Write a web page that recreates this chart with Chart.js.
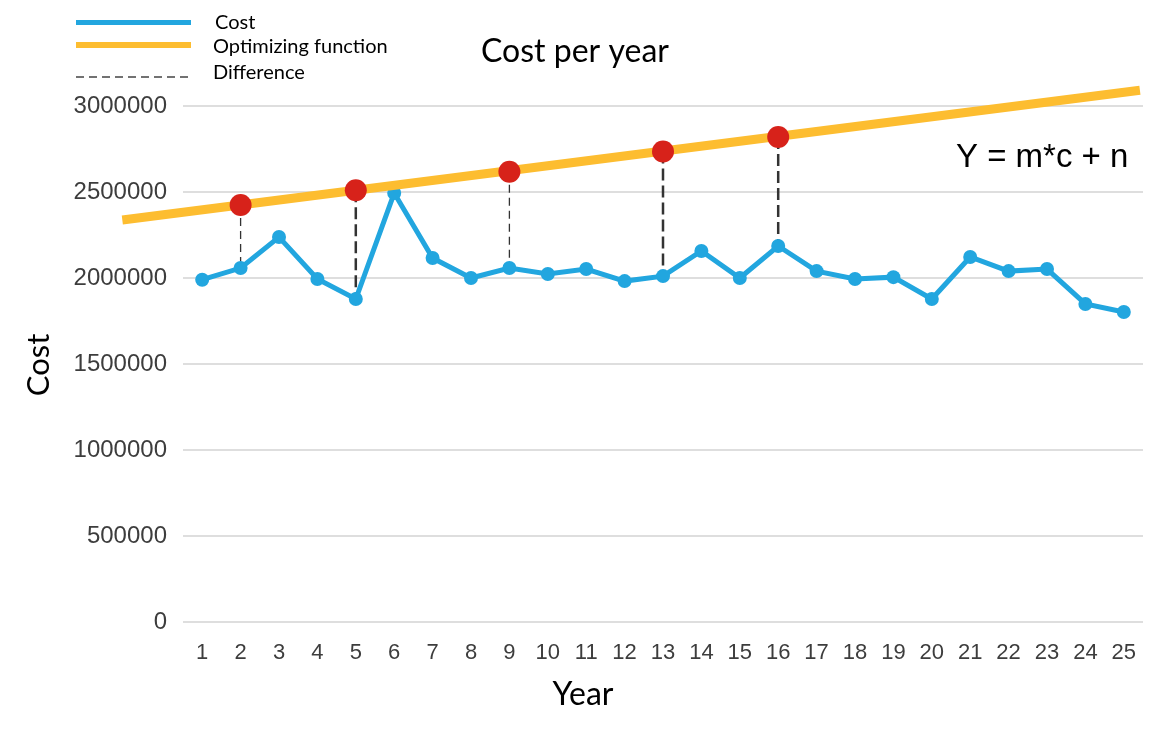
<!DOCTYPE html>
<html>
<head>
<meta charset="utf-8">
<title>Cost per year</title>
<script src="https://cdn.jsdelivr.net/npm/chart.js@4/dist/chart.umd.min.js"></script>
<style>
  html, body { margin: 0; padding: 0; background: #fff; }
  #wrap { width: 1160px; height: 733px; }
</style>
</head>
<body>
<div id="wrap"><canvas id="costChart" width="1160" height="733"></canvas></div>
<script>
const years = [1, 2, 3, 4, 5, 6, 7, 8, 9, 10, 11, 12, 13, 14, 15, 16, 17, 18, 19, 20, 21, 22, 23, 24, 25];
const costs = [1990000, 2058000, 2238000, 1994000, 1878000, 2494000, 2116000, 2000000, 2058000, 2023000,
               2052000, 1982000, 2011000, 2157000, 2000000, 2186000, 2040000, 1994000, 2005000, 1878000,
               2122000, 2040000, 2052000, 1849000, 1802000];

// straight optimizing line, runs a bit past both ends of the year range
const optYears = [-1.08, 25.42];
const optValues = [2337000, 3092000];

// years where the gap to the optimizing line is marked
const markYears = [2, 5, 9, 13, 16];
const markValues = [2424000, 2510000, 2618000, 2736000, 2820000];

const yTicks = [0, 500000, 1000000, 1500000, 2000000, 2500000, 3000000];

const BLUE = '#22a6df';
const ORANGE = '#fdbd30';
const RED = '#d7221a';

// the later gap lines are drawn heavier
const heavyGaps = [5, 13, 16];

const diffPoints = [];
markYears.forEach((yr, i) => {
  diffPoints.push({ x: yr, y: markValues[i] });
  diffPoints.push({ x: yr, y: costs[years.indexOf(yr)] });
  diffPoints.push({ x: yr, y: null });
});

// title, axis titles, legend and equation text
const annotations = {
  id: 'annotations',
  afterDraw(chart) {
    const ctx = chart.ctx;
    ctx.save();
    ctx.fillStyle = '#000';
    ctx.textBaseline = 'alphabetic';

    ctx.font = '32px Lato';
    ctx.textAlign = 'center';
    ctx.fillText('Cost per year', 575, 62);
    ctx.fillText('Year', 583, 705);

    ctx.save();
    ctx.translate(49, 365);
    ctx.rotate(-Math.PI / 2);
    ctx.font = '31px Lato';
    ctx.fillText('Cost', 0, 0);
    ctx.restore();

    ctx.textAlign = 'left';
    ctx.font = '33px "Liberation Sans"';
    ctx.fillText('Y = m*c + n', 956, 167);

    // legend
    ctx.lineCap = 'butt';
    ctx.strokeStyle = BLUE;
    ctx.lineWidth = 5;
    ctx.beginPath(); ctx.moveTo(76, 22.5); ctx.lineTo(191, 22.5); ctx.stroke();
    ctx.strokeStyle = ORANGE;
    ctx.lineWidth = 6;
    ctx.beginPath(); ctx.moveTo(76, 45); ctx.lineTo(191, 45); ctx.stroke();
    ctx.strokeStyle = '#444';
    ctx.lineWidth = 1.5;
    ctx.setLineDash([8, 5]);
    ctx.beginPath(); ctx.moveTo(76, 77); ctx.lineTo(193, 77); ctx.stroke();
    ctx.setLineDash([]);

    ctx.font = '20px Lato';
    ctx.fillText('Cost', 215, 29);
    ctx.fillText('Optimizing function', 213, 53);
    ctx.fillText('Difference', 213, 79);
    ctx.restore();
  }
};

new Chart(document.getElementById('costChart'), {
  type: 'line',
  data: {
    datasets: [
      {
        label: 'Marked',
        data: markYears.map((yr, i) => ({ x: yr, y: markValues[i] })),
        showLine: false,
        pointRadius: 11,
        pointBackgroundColor: RED,
        pointBorderWidth: 0,
        order: 0,
        clip: false
      },
      {
        label: 'Optimizing function',
        data: optYears.map((yr, i) => ({ x: yr, y: optValues[i] })),
        borderColor: ORANGE,
        borderWidth: 9,
        pointRadius: 0,
        order: 1,
        clip: false
      },
      {
        label: 'Cost',
        data: years.map((yr, i) => ({ x: yr, y: costs[i] })),
        borderColor: BLUE,
        borderWidth: 5,
        pointRadius: 7,
        pointBackgroundColor: BLUE,
        pointBorderWidth: 0,
        order: 2
      },
      {
        label: 'Difference',
        data: diffPoints,
        borderColor: '#333',
        borderWidth: 1.3,
        borderDash: [8, 5],
        segment: {
          borderWidth: c => heavyGaps.includes(c.p0.parsed.x) ? 2.5 : 1.3,
          borderDash: c => heavyGaps.includes(c.p0.parsed.x) ? [12, 5] : [8, 5]
        },
        pointRadius: 0,
        spanGaps: false,
        order: 3
      }
    ]
  },
  options: {
    responsive: false,
    animation: false,
    events: [],
    layout: { padding: { top: 106, right: 17, left: 0, bottom: 0 } },
    plugins: {
      legend: { display: false },
      title: { display: false },
      tooltip: { enabled: false }
    },
    scales: {
      x: {
        type: 'linear',
        min: 0.5,
        max: 25.5,
        afterBuildTicks: scale => { scale.ticks = years.map(v => ({ value: v })); },
        afterFit: scale => { scale.height = 111; },
        grid: { display: false, drawTicks: false },
        border: { display: false },
        ticks: {
          padding: 18,
          color: '#3d3d3d',
          font: { family: '"Liberation Sans"', size: 22 },
          maxRotation: 0,
          autoSkip: false
        }
      },
      y: {
        min: 0,
        max: 3000000,
        afterBuildTicks: scale => { scale.ticks = yTicks.map(v => ({ value: v })); },
        afterFit: scale => { scale.width = 183; },
        grid: { color: '#dedede', lineWidth: 2, drawTicks: false },
        border: { display: false },
        ticks: {
          padding: 16,
          color: '#3d3d3d',
          font: { family: '"Liberation Sans"', size: 24 },
          callback: v => String(v)
        }
      }
    }
  },
  plugins: [annotations]
});
</script>
</body>
</html>
